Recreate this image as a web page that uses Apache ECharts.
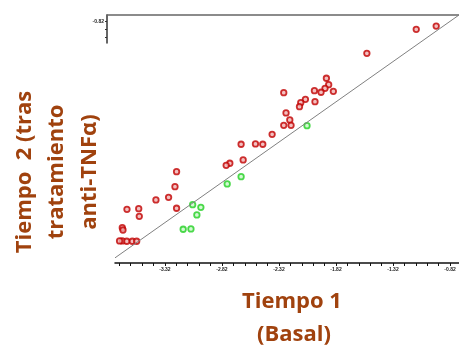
<!DOCTYPE html>
<html>
<head>
<meta charset="utf-8">
<title></title>
<script src="https://cdn.jsdelivr.net/npm/echarts@6.0.0/dist/echarts.min.js"></script>
<style>
  html, body { margin: 0; padding: 0; background: #fff; }
  #main { width: 459px; height: 345px; }
</style>
</head>
<body>
<div id="main"></div>
<script type="text/javascript">
// ejes (valores log)
var xTickLabels = [-3.32, -2.82, -2.32, -1.82, -1.32, -0.82];
var yTickLabels = [-0.82];
var xMin = -3.758, xMax = -0.741;
var yMin = -3.822, yMax = -0.741;

// pacientes que suben (rojo) y que bajan (verde): [tiempo1, tiempo2]
var rojos = [
  [-1.116, -0.919], [-0.941, -0.878], [-1.549, -1.217], [-1.904, -1.527],
  [-1.884, -1.607], [-1.916, -1.652], [-2.009, -1.681], [-1.951, -1.701],
  [-1.843, -1.689], [-2.278, -1.706], [-2.088, -1.788], [-2.129, -1.830],
  [-2.004, -1.818], [-2.140, -1.880], [-2.258, -1.958], [-2.225, -2.045],
  [-2.278, -2.111], [-2.214, -2.111], [-2.380, -2.223], [-2.652, -2.347],
  [-2.526, -2.343], [-2.462, -2.347], [-2.634, -2.542], [-2.751, -2.583],
  [-2.783, -2.608], [-3.218, -2.688], [-3.232, -2.874], [-3.288, -3.006],
  [-3.399, -3.039], [-3.653, -3.155], [-3.550, -3.147], [-3.545, -3.242],
  [-3.218, -3.142], [-3.694, -3.383], [-3.688, -3.412], [-3.694, -3.548],
  [-3.655, -3.552], [-3.606, -3.552], [-3.568, -3.552], [-3.718, -3.548]
];
var verdes = [
  [-2.074, -2.116], [-2.652, -2.750], [-2.774, -2.840], [-3.005, -3.130],
  [-3.077, -3.098], [-3.040, -3.225], [-3.160, -3.403], [-3.092, -3.399]
];
// linea de identidad y = x
var identidad = [[xMin, xMin], [xMax, xMax]];

var myChart = echarts.init(document.getElementById('main'));

// marcas menores cada 0.1 a partir de las etiquetas
var xTicks = [];
for (var v = xTickLabels[0] - 0.4; v <= xMax + 1e-9; v += 0.1) {
  if (v >= xMin) xTicks.push(Math.round(v * 1000) / 1000);
}
var yTicks = [-0.82, -0.92, -1.02];

var titulo = '#a0420e';
var fuente = '"Open Sans", "DejaVu Sans", sans-serif';

var option = {
  animation: false,
  grid: [
    { left: 115, right: 0, top: 15, bottom: 82 },
    { left: 107, right: 0, top: 15, height: 28 }
  ],
  xAxis: [
    {
      gridIndex: 0, type: 'value', min: xMin, max: xMax,
      splitLine: { show: false },
      axisLine: { lineStyle: { color: '#111', width: 1.5 } },
      axisTick: { customValues: xTicks, length: 3, lineStyle: { color: '#111' } },
      axisLabel: {
        customValues: xTickLabels, fontSize: 5, fontWeight: 'bold', color: '#222', margin: 4,
        formatter: function (v) { return v.toFixed(2); }
      }
    },
    {
      gridIndex: 1, type: 'value', position: 'top', min: 0, max: 1,
      splitLine: { show: false },
      axisLine: { lineStyle: { color: '#666', width: 1.5 } },
      axisTick: { show: false },
      axisLabel: { show: false }
    }
  ],
  yAxis: [
    {
      gridIndex: 0, type: 'value', min: yMin, max: yMax, show: false
    },
    {
      gridIndex: 1, type: 'value', min: yMax - 28 / 80.5, max: yMax,
      splitLine: { show: false },
      axisLine: { show: true, lineStyle: { color: '#333', width: 1.5 } },
      axisTick: { customValues: yTicks, length: 2, lineStyle: { color: '#333' } },
      axisLabel: {
        customValues: yTickLabels, fontSize: 5, fontWeight: 'bold', color: '#222', margin: 3,
        formatter: function (v) { return v.toFixed(2); }
      }
    }
  ],
  series: [
    {
      type: 'line', xAxisIndex: 0, yAxisIndex: 0, data: identidad,
      symbol: 'none', silent: true,
      lineStyle: { color: '#808080', width: 1 }
    },
    {
      type: 'scatter', xAxisIndex: 0, yAxisIndex: 0, data: rojos,
      symbol: 'circle', symbolSize: 5.5,
      itemStyle: { color: '#f0b0b0', borderColor: '#c00000', borderWidth: 1.8 }
    },
    {
      type: 'scatter', xAxisIndex: 0, yAxisIndex: 0, data: verdes,
      symbol: 'circle', symbolSize: 5.5,
      itemStyle: { color: '#c8f8c8', borderColor: '#22d022', borderWidth: 1.8 }
    }
  ],
  graphic: [
    { type: 'text', x: 25, y: 172, rotation: Math.PI / 2,
      style: { text: 'Tiempo  2 (tras', fill: titulo, font: 'bold 22px ' + fuente, align: 'center', verticalAlign: 'middle' } },
    { type: 'text', x: 57, y: 172, rotation: Math.PI / 2,
      style: { text: 'tratamiento', fill: titulo, font: 'bold 22px ' + fuente, align: 'center', verticalAlign: 'middle' } },
    { type: 'text', x: 90, y: 172, rotation: Math.PI / 2,
      style: { text: 'anti-TNFα)', fill: titulo, font: 'bold 22px ' + fuente, align: 'center', verticalAlign: 'middle' } },
    { type: 'text', x: 292, y: 302,
      style: { text: 'Tiempo 1', fill: titulo, font: 'bold 22px ' + fuente, align: 'center', verticalAlign: 'middle' } },
    { type: 'text', x: 294, y: 335,
      style: { text: '(Basal)', fill: titulo, font: 'bold 22px ' + fuente, align: 'center', verticalAlign: 'middle' } }
  ]
};
myChart.setOption(option);
</script>
</body>
</html>
